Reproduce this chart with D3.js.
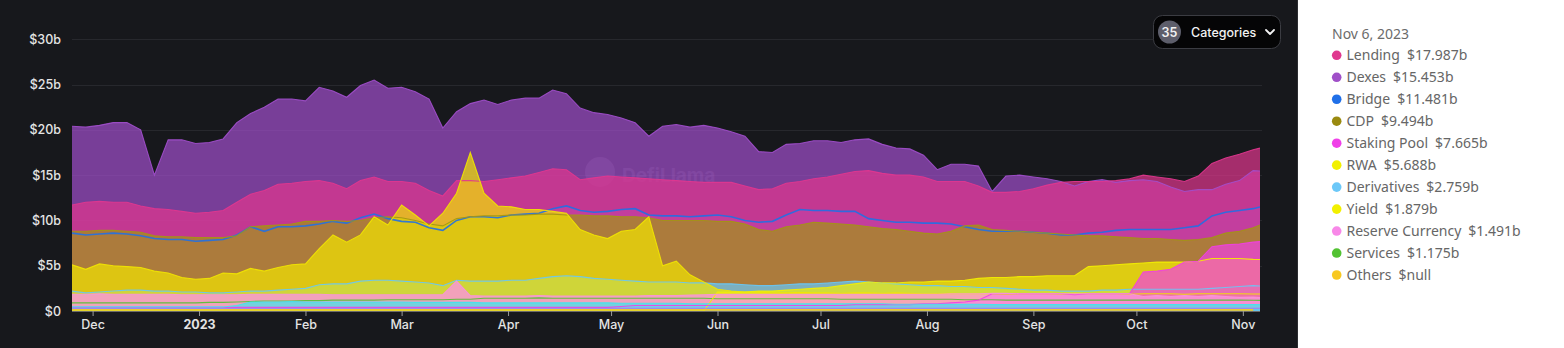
<!DOCTYPE html>
<html><head><meta charset="utf-8">
<script src="https://cdn.jsdelivr.net/npm/d3@7"></script>
<style>
html,body{margin:0;padding:0;background:#ffffff;}
svg{display:block;}
</style></head><body>
<svg id="chart" width="1564" height="348"></svg>
<script>
// ---------- DATA ----------
const startDate = new Date(2022, 10, 25);
const endDate = new Date(2023, 10, 6);
// 4-day sampling grid, last point = Nov 6, 2023
const dates = d3.range(87).map(i => d3.timeDay.offset(startDate, i * 4)).concat([endDate]);

const dexes = [20.4,20.3,20.5,20.8,20.8,20.0,15.0,18.9,18.9,18.5,
  18.6,19.0,20.8,21.8,22.5,23.4,23.4,23.2,24.7,24.3,
  23.6,24.9,25.5,24.6,24.7,24.2,23.4,20.2,22.0,22.9,
  23.3,22.8,23.3,23.5,23.5,24.4,24.0,22.4,21.9,21.7,
  21.3,20.8,19.3,20.4,20.6,20.3,20.5,20.2,19.8,19.3,
  17.6,17.5,18.4,18.5,18.8,18.8,18.6,18.9,19.0,18.4,
  18.0,17.9,17.2,15.6,16.2,16.2,16.0,13.2,14.9,15.0,
  14.8,14.6,14.3,13.8,14.3,14.5,14.2,14.4,14.5,14.3,
  13.7,13.2,13.4,13.4,14.0,14.4,15.5,15.45];
const lending = [11.7,12.0,12.1,12.0,12.0,11.6,11.3,11.2,11.0,10.8,
  10.9,11.1,12.0,12.9,13.3,14.0,14.1,14.3,14.4,14.1,
  13.5,14.4,14.8,14.3,14.3,14.1,13.3,12.7,14.4,14.4,
  14.3,14.5,14.7,14.9,15.3,15.7,15.6,14.5,14.7,14.9,
  14.8,14.7,14.6,14.5,14.4,14.3,14.2,14.2,14.2,13.8,
  13.4,13.5,14.1,14.3,14.6,14.8,15.1,15.4,15.5,15.2,
  15.0,15.0,14.8,14.3,14.3,14.3,13.8,13.1,13.1,13.2,
  13.5,13.9,14.2,14.3,14.3,14.3,14.4,14.6,15.0,14.8,
  14.6,14.3,14.9,16.3,16.9,17.3,17.8,17.987];
const bridge = [8.6,8.4,8.5,8.6,8.5,8.3,8.0,7.9,7.9,7.7,
  7.8,7.9,8.4,9.3,8.8,9.3,9.3,9.4,9.6,9.9,
  9.7,10.3,10.7,10.2,9.9,9.8,9.2,8.9,10.0,10.4,
  10.4,10.3,10.6,10.7,10.8,11.3,11.6,11.1,10.9,11.0,
  11.2,11.3,10.6,10.5,10.5,10.4,10.5,10.6,10.4,10.0,
  9.8,9.9,10.6,11.2,11.1,11.1,11.0,11.0,10.2,10.0,
  9.8,9.8,9.7,9.7,9.6,9.3,9.0,8.8,8.8,8.8,
  8.7,8.6,8.4,8.4,8.6,8.7,8.9,9.0,9.0,9.0,
  9.0,9.2,9.4,10.5,10.9,11.1,11.3,11.481];
const cdp = [8.8,8.8,8.9,8.9,8.8,8.7,8.3,8.2,8.2,8.1,
  8.1,8.1,8.3,9.3,9.4,9.5,9.6,9.9,9.9,10.0,
  9.9,10.0,10.3,10.4,10.3,10.0,9.6,9.4,10.2,10.4,
  10.5,10.5,10.6,10.6,10.7,10.7,10.6,10.6,10.5,10.5,
  10.4,10.4,10.3,10.0,10.0,10.0,10.0,9.9,9.9,9.6,
  9.0,8.8,9.3,9.5,9.8,9.7,9.6,9.5,9.3,9.1,
  9.0,8.8,8.6,8.5,8.8,9.4,9.5,9.0,8.9,8.8,
  8.7,8.6,8.5,8.4,8.3,8.3,8.2,8.1,8.0,8.0,
  7.9,7.8,7.9,8.1,8.6,8.8,9.2,9.494];
const stakingPool = [0.4,0.4,0.4,0.4,0.4,0.4,0.4,0.4,0.4,0.4,
  0.4,0.4,0.4,0.4,0.4,0.4,0.4,0.4,0.4,0.4,
  0.4,0.4,0.4,0.4,0.4,0.4,0.4,0.4,0.4,0.4,
  0.4,0.4,0.4,0.4,0.4,0.4,0.4,0.4,0.4,0.4,
  0.5,0.6,0.6,0.6,0.6,0.6,0.6,0.6,0.6,0.6,
  0.6,0.6,0.6,0.6,0.6,0.6,0.6,0.7,0.7,0.7,
  0.7,0.7,0.8,0.8,0.9,1.0,1.2,1.9,1.9,1.9,
  1.9,1.9,1.9,1.8,1.9,1.9,1.9,1.9,4.3,4.4,
  4.6,5.4,5.5,7.1,7.3,7.4,7.6,7.665];
const rwa = [0,0,0,0,0,0,0,0,0,0,
  0,0,0,0,0,0,0,0,0,0,
  0,0,0,0,0,0,0,0,0,0,
  0,0,0,0,0,0,0,0,0,0,
  0,0,0,0,0,0,0,2.1,2.1,2.1,
  2.2,2.2,2.3,2.4,2.5,2.6,2.8,3.0,3.2,3.1,
  3.1,3.2,3.2,3.3,3.3,3.4,3.6,3.7,3.7,3.8,
  3.8,3.9,3.9,3.9,4.9,5.0,5.1,5.2,5.3,5.4,
  5.4,5.4,5.5,5.8,5.8,5.8,5.7,5.688];
const derivatives = [2.2,2.0,2.1,2.2,2.3,2.3,2.2,2.2,2.1,2.1,
  2.0,2.0,2.1,2.2,2.2,2.3,2.4,2.5,2.9,3.0,
  3.0,3.3,3.4,3.4,3.3,3.2,3.1,2.8,3.4,3.3,
  3.3,3.3,3.4,3.4,3.6,3.8,3.9,3.8,3.6,3.5,
  3.4,3.3,3.2,3.2,3.2,3.1,3.1,3.0,3.0,2.9,
  2.8,2.8,2.9,3.0,3.0,3.1,3.2,3.3,3.2,3.1,
  3.0,2.9,2.8,2.8,2.7,2.7,2.6,2.6,2.5,2.4,
  2.3,2.3,2.2,2.2,2.2,2.3,2.3,2.4,2.4,2.4,
  2.4,2.4,2.4,2.5,2.6,2.7,2.8,2.759];
const yieldCat = [5.1,4.6,5.2,5.0,4.9,4.8,4.4,4.2,3.7,3.5,
  3.6,4.2,4.1,4.7,4.4,4.8,5.1,5.2,6.9,8.4,
  7.6,8.4,10.4,9.5,11.7,10.6,9.4,10.8,13.0,17.5,
  13.0,11.6,11.5,11.2,11.2,11.0,10.8,9.0,8.4,8.0,
  8.8,9.0,10.4,5.0,5.5,4.0,3.2,2.4,2.2,2.1,
  2.1,2.0,2.0,2.05,2.0,2.0,1.95,2.0,2.0,1.95,
  2.0,1.95,1.9,1.9,1.95,1.9,1.9,1.9,1.85,1.9,
  1.9,1.9,1.85,1.9,1.9,1.9,1.9,1.85,1.9,1.9,
  1.9,1.85,1.9,1.9,1.9,1.9,1.88,1.879];
const reserveCurrency = [1.85,1.85,1.9,1.85,1.85,1.85,1.85,1.85,1.8,1.8,
  1.8,1.8,1.8,1.85,1.85,1.85,1.85,1.85,1.85,1.8,
  1.8,1.8,1.8,1.8,1.8,1.8,1.8,1.8,3.3,1.7,
  1.65,1.65,1.65,1.65,1.7,1.65,1.65,1.65,1.65,1.65,
  1.65,1.65,1.7,1.7,1.7,1.75,1.8,1.85,1.85,1.85,
  1.85,1.85,1.85,1.85,1.85,1.85,1.85,1.85,1.85,1.85,
  1.85,1.85,1.85,1.85,1.9,1.9,1.9,1.95,1.95,1.9,
  1.9,1.9,1.9,1.9,1.9,1.9,1.9,1.9,1.6,1.7,
  1.6,1.7,1.6,1.7,1.6,1.5,1.55,1.491];
const services = [0.9,0.9,0.9,0.9,0.9,0.9,0.9,0.9,0.9,0.9,
  0.95,0.95,1.0,1.05,1.1,1.1,1.1,1.15,1.15,1.2,
  1.2,1.2,1.2,1.25,1.25,1.25,1.25,1.25,1.3,1.3,
  1.4,1.4,1.4,1.4,1.45,1.4,1.4,1.4,1.4,1.4,
  1.4,1.4,1.4,1.4,1.4,1.4,1.4,1.35,1.35,1.35,
  1.35,1.35,1.35,1.35,1.35,1.35,1.3,1.3,1.3,1.3,
  1.3,1.3,1.3,1.3,1.3,1.25,1.25,1.25,1.2,1.2,
  1.2,1.2,1.2,1.2,1.2,1.2,1.2,1.2,1.2,1.2,
  1.2,1.2,1.2,1.2,1.2,1.2,1.18,1.175];
const others = [0.15,0.15,0.15,0.15,0.15,0.15,0.15,0.15,0.15,0.15,
  0.15,0.15,0.15,0.15,0.15,0.15,0.15,0.15,0.15,0.15,
  0.15,0.15,0.15,0.15,0.15,0.15,0.15,0.15,0.15,0.15,
  0.15,0.15,0.15,0.15,0.15,0.15,0.15,0.15,0.15,0.15,
  0.15,0.15,0.15,0.15,0.15,0.15,0.15,0.15,0.15,0.15,
  0.15,0.15,0.15,0.15,0.15,0.15,0.15,0.15,0.15,0.15,
  0.15,0.15,0.15,0.15,0.15,0.15,0.15,0.15,0.15,0.15,
  0.15,0.15,0.15,0.15,0.15,0.15,0.15,0.15,0.15,0.15,
  0.15,0.15,0.15,0.15,0.15,0.15,0.15,null];
// two of the smaller (unlisted) categories near the bottom
const minorCyan = [0.45,0.45,0.45,0.45,0.45,0.45,0.45,0.45,0.45,0.45,
  0.45,0.45,0.6,1.0,1.0,1.0,1.05,1.0,1.0,1.0,
  1.0,1.0,1.0,1.0,1.0,0.95,0.95,0.95,0.95,0.95,
  0.9,0.9,0.9,0.9,0.9,0.9,0.9,0.9,0.9,0.9,
  0.85,0.85,0.85,0.85,0.85,0.8,0.8,0.8,0.8,0.8,
  0.8,0.8,0.8,0.8,0.8,0.8,0.8,0.8,0.8,0.8,
  0.75,0.75,0.75,0.75,0.75,0.75,0.75,0.7,0.7,0.7,
  0.7,0.7,0.7,0.7,0.7,0.7,0.7,0.7,0.7,0.7,
  0.7,0.7,0.7,0.7,0.7,0.7,0.7,0.7];
const minorViolet = [0.3,0.3,0.3,0.3,0.3,0.3,0.3,0.3,0.3,0.3,
  0.3,0.3,0.3,0.3,0.3,0.3,0.3,0.3,0.3,0.3,
  0.3,0.3,0.3,0.3,0.3,0.3,0.3,0.3,0.3,0.3,
  0.3,0.3,0.3,0.3,0.3,0.3,0.3,0.3,0.3,0.3,
  0.3,0.3,0.3,0.3,0.3,0.3,0.3,0.3,0.3,0.3,
  0.3,0.3,0.3,0.3,0.3,0.3,0.3,0.3,0.3,0.3,
  0.3,0.3,0.3,0.3,0.3,0.3,0.3,0.3,0.3,0.3,
  0.3,0.3,0.3,0.3,0.3,0.3,0.3,0.3,0.3,0.3,
  0.3,0.3,0.3,0.3,0.3,0.3,0.3,0.3];

const legendDate = "Nov 6, 2023";
const legendNames = ["Lending","Dexes","Bridge","CDP","Staking Pool","RWA","Derivatives","Yield","Reserve Currency","Services","Others"];
const legendValues = ["$17.987b","$15.453b","$11.481b","$9.494b","$7.665b","$5.688b","$2.759b","$1.879b","$1.491b","$1.175b","$null"];
const yTicks = [0,5,10,15,20,25,30];
const categoryCount = "35";

// ---------- SERIES (draw order) ----------
const series = [
  {name:"Bridge", color:"#2170e4", values:bridge},
  {name:"Dexes", color:"#a24fcd", values:dexes},
  {name:"Lending", color:"#e2368f", values:lending},
  {name:"CDP", color:"#a39612", values:cdp},
  {name:"Services", color:"#52c232", values:services},
  {name:"Derivatives", color:"#68c8f6", values:derivatives},
  {name:"Yield", color:"#f2e600", values:yieldCat},
  {name:"RWA", color:"#f4f000", values:rwa},
  {name:"Staking Pool", color:"#f23ee6", values:stakingPool},
  {name:"Reserve Currency", color:"#fa94dc", values:reserveCurrency},
  {name:"minorViolet", color:"#b070f0", values:minorViolet},
  {name:"minorCyan", color:"#3ee6ee", values:minorCyan},
  {name:"Others", color:"#f8c81e", values:others}
];
const legendColors = {"Lending":"#e0388f","Dexes":"#a050c8","Bridge":"#2070e8","CDP":"#9a8a10",
  "Staking Pool":"#f040e8","RWA":"#f2f000","Derivatives":"#6cc8f8","Yield":"#f2f000",
  "Reserve Currency":"#f888e8","Services":"#52c232","Others":"#f8c820"};

// ---------- DRAW ----------
const svg = d3.select("#chart");
const W = 1564, H = 348, darkW = 1297;
svg.append("rect").attr("x",0).attr("y",0).attr("width",darkW).attr("height",H).attr("fill","#17181c");
svg.append("rect").attr("x",darkW).attr("y",0).attr("width",W-darkW).attr("height",H).attr("fill","#ffffff");
svg.append("line").attr("x1",darkW+0.5).attr("x2",darkW+0.5).attr("y1",0).attr("y2",H).attr("stroke","#2c2d31");

const x = d3.scaleTime().domain([startDate, endDate]).range([72, 1260]);
const y = d3.scaleLinear().domain([0, 30]).range([311, 39.3]);

// grid
svg.append("g").selectAll("line").data(yTicks.filter(d=>d>0)).join("line")
  .attr("x1",72).attr("x2",1262).attr("y1",d=>Math.round(y(d))+0.5).attr("y2",d=>Math.round(y(d))+0.5)
  .attr("stroke","#27282d").attr("stroke-width",1);

// watermark
const wm = svg.append("g").attr("opacity",0.13);
wm.append("circle").attr("cx",600).attr("cy",172).attr("r",15).attr("fill","#ffffff");
wm.append("text").attr("x",622).attr("y",182).attr("font-family","Inter, sans-serif").attr("font-weight",700)
  .attr("font-size",19).attr("fill","#ffffff").text("DefiLlama");

svg.append("clipPath").attr("id","plotclip").append("rect").attr("x",72).attr("y",30).attr("width",1188).attr("height",282);
const plot = svg.append("g").attr("clip-path","url(#plotclip)");

const area = d3.area().defined(d=>d.v!=null).x(d=>x(d.date)).y0(y(0)).y1(d=>y(d.v));
const line = d3.line().defined(d=>d.v!=null).x(d=>x(d.date)).y(d=>y(d.v));
const seriesPts = series.map(s => ({...s, pts: dates.map((dt,i)=>({date:dt, v:s.values[i]}))}));

plot.selectAll("path.area").data(seriesPts).join("path").attr("class","area")
  .attr("d",d=>area(d.pts)).attr("fill",d=>d.color)
  .attr("fill-opacity",d=>d.name==="Reserve Currency"?0.8:0.7);
plot.selectAll("path.line").data(seriesPts).join("path").attr("class","line")
  .attr("d",d=>line(d.pts)).attr("fill","none").attr("stroke",d=>d.color)
  .attr("stroke-width",d=>d.name==="Bridge"?1.6:1.1).attr("stroke-opacity",0.9);

// y axis labels
const yAxis = svg.append("g").attr("transform","translate(72,0)")
  .call(d3.axisLeft(y).tickValues(yTicks).tickSize(0).tickPadding(11).tickFormat(d=> d===0 ? "$0" : "$"+d+"b"));
yAxis.select(".domain").remove();
yAxis.selectAll("text").attr("font-family","Inter, sans-serif").attr("font-size",12.5).attr("font-weight",500).attr("fill","#e4e4e4");

// x axis
const xAxis = svg.append("g").attr("transform","translate(0,311)")
  .call(d3.axisBottom(x).ticks(d3.timeMonth.every(1)).tickSize(5).tickPadding(4)
    .tickFormat(d => d.getMonth()===0 ? d3.timeFormat("%Y")(d) : d3.timeFormat("%b")(d)));
xAxis.select(".domain").attr("stroke","#6a6a6a").attr("d","M72,0.5H1260");
xAxis.selectAll(".tick line").attr("stroke","#9a9a9a");
xAxis.selectAll("text").attr("font-family","Inter, sans-serif").attr("font-size",12.5).attr("fill","#e4e4e4")
  .attr("font-weight",d=>d.getMonth()===0?700:500);

// categories button
const btn = svg.append("g");
btn.append("rect").attr("x",1153.5).attr("y",15.5).attr("width",127).attr("height",33).attr("rx",9)
  .attr("fill","#050506").attr("stroke","#3b3c42");
btn.append("circle").attr("cx",1169.5).attr("cy",32).attr("r",11.5).attr("fill","#5d5e6b");
btn.append("text").attr("x",1169.5).attr("y",36.5).attr("text-anchor","middle").attr("font-family","Inter, sans-serif")
  .attr("font-size",12.5).attr("font-weight",600).attr("fill","#f2f2f2").text(categoryCount);
btn.append("text").attr("x",1191).attr("y",36.5).attr("font-family","Inter, sans-serif")
  .attr("font-size",12.5).attr("font-weight",500).attr("fill","#f2f2f2").text("Categories");
btn.append("path").attr("d","M1266,30 L1270,34 L1274,30").attr("fill","none").attr("stroke","#f2f2f2").attr("stroke-width",1.8)
  .attr("stroke-linecap","round").attr("stroke-linejoin","round");

// legend
const lg = svg.append("g").attr("font-family","'Noto Sans', 'Open Sans', sans-serif").attr("font-size",14);
lg.append("text").attr("x",1332).attr("y",38.5).attr("fill","#6b6b6b").text(legendDate);
const rows = lg.selectAll("g.row").data(legendNames).join("g").attr("class","row")
  .attr("transform",(d,i)=>`translate(0,${55.3 + i*21.97})`);
rows.append("circle").attr("cx",1336.7).attr("cy",0).attr("r",4.8).attr("fill",d=>legendColors[d]);
const t = rows.append("text").attr("x",1346.5).attr("y",5).attr("fill","#666666");
t.append("tspan").text(d=>d);
t.append("tspan").attr("dx",7).text((d,i)=>legendValues[i]);
</script>
</body></html>
